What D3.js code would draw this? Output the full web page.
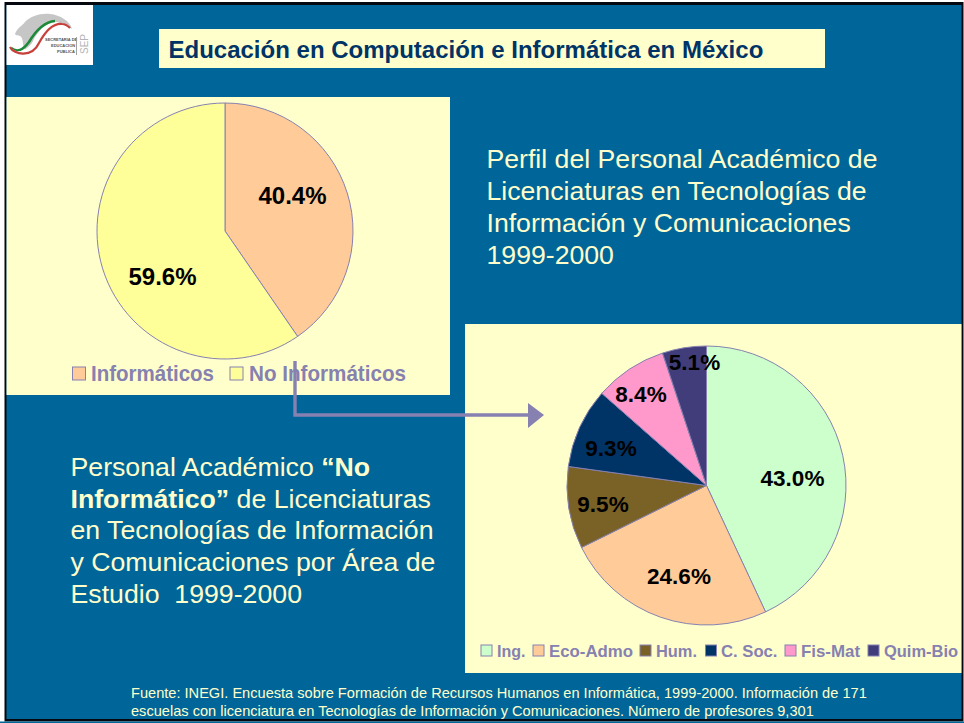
<!DOCTYPE html>
<html><head><meta charset="utf-8">
<script src="https://cdn.jsdelivr.net/npm/d3@7/dist/d3.min.js"></script>
<style>html,body{margin:0;padding:0;background:#fff}svg{display:block}text{font-family:"Liberation Sans",Arial,sans-serif}</style>
</head><body><svg id="c" width="964" height="723"></svg>
<script>
const perfilLabels=["Informáticos","No Informáticos"];
const perfilValues=[40.4,59.6];
const perfilColors=["#ffcc99","#ffff99"];
const areaLabels=["Ing.","Eco-Admo","Hum.","C. Soc.","Fis-Mat","Quim-Bio"];
const areaValues=[43.0,24.6,9.5,9.3,8.4,5.1];
const areaColors=["#ccffcc","#ffcc99","#7a6126","#003366","#ff99cc","#403d7a"];
const titleText="Educación en Computación e Informática en México";
const perfilTitle=["Perfil del Personal Académico de","Licenciaturas en Tecnologías de","Información y Comunicaciones","1999-2000"];
const sourceLines=["Fuente: INEGI. Encuesta sobre Formación de Recursos Humanos en Informática, 1999-2000. Información de 171","escuelas con licenciatura en Tecnologías de Información y Comunicaciones. Número de profesores 9,301"];

const svg=d3.select("#c");
const BG="#006699",CREAM="#ffffcc",LEG="#8681b0",LINE="#8681b0";
svg.append("rect").attr("x",4.5).attr("y",2).attr("width",959).attr("height",719.5).attr("fill","#05090f");
svg.append("rect").attr("x",6.5).attr("y",5).attr("width",955).attr("height",714).attr("fill",BG);
svg.append("rect").attr("x",0).attr("y",721.5).attr("width",964).attr("height",1.5).attr("fill",BG);

// logo
const logo=svg.append("g");
logo.append("rect").attr("x",6.5).attr("y",5).attr("width",86.5).attr("height",60).attr("fill","#fff");
logo.append("path").attr("d","M15 34C17 28 22 26 25 22C31 16 40 13 50 14C60 15 70 21 72 29C66 25 60 22 54 22C46 22 40 30 35 37C32 43 30 50 25 50C22 46 24 38 20 36C18 35 16 36 15 34Z").attr("fill","#c6c6c6");
logo.append("path").attr("d","M11 48C17 53 23 50 29 42C35 32 43 22 55 21").attr("fill","none").attr("stroke","#1d8a3a").attr("stroke-width",2.6);
logo.append("path").attr("d","M11 49C19 55 27 51 33 43C39 34 47 24 58 23").attr("fill","none").attr("stroke","#fff").attr("stroke-width",1.4);
logo.append("path").attr("d","M10 47C14 55 32 58 39 43C45 32 52 23 62 24C66 24 68 26 70 28").attr("fill","none").attr("stroke","#c8403a").attr("stroke-width",2.2);
[["SECRETARIA DE",45,40.5],["EDUCACION",51,47],["PUBLICA",57,53]].forEach(d=>logo.append("text").attr("x",d[1]).attr("y",d[2]).attr("font-size",4).attr("font-weight","bold").attr("fill","#555").text(d[0]));
logo.append("rect").attr("x",76).attr("y",37).attr("width",.9).attr("height",18).attr("fill","#999");
logo.append("text").attr("transform","translate(88,54) rotate(-90)").attr("font-size",10).attr("fill","#b5b5b5").text("SEP");

// title
svg.append("rect").attr("x",159).attr("y",29).attr("width",666).attr("height",39).attr("fill",CREAM);
svg.append("text").attr("x",168.5).attr("y",58).attr("font-size",24).attr("font-weight","bold").attr("fill","#003366").text(titleText);

// panels
svg.append("rect").attr("x",6.5).attr("y",97).attr("width",443.5).attr("height",298).attr("fill",CREAM);
svg.append("rect").attr("x",465).attr("y",324).attr("width",496.5).attr("height",349).attr("fill",CREAM);

function drawPie(cx,cy,r,vals,cols,labels,fs){
  const arcs=d3.pie().sort(null)(vals);
  const arc=d3.arc().innerRadius(0).outerRadius(r);
  const g=svg.append("g").attr("transform",`translate(${cx},${cy})`);
  g.selectAll("path").data(arcs).join("path").attr("d",arc).attr("fill",(d,i)=>cols[i]).attr("stroke",LINE).attr("stroke-width",1);
  g.selectAll("text").data(arcs).join("text")
    .attr("x",(d,i)=>labels[i][0]).attr("y",(d,i)=>labels[i][1])
    .attr("text-anchor","middle").attr("font-size",fs).attr("font-weight","bold").attr("fill","#000")
    .text(d=>d.value.toFixed(1)+"%");
}
drawPie(225,231,128,perfilValues,perfilColors,[[67.5,-27],[-62.5,54]],24);
drawPie(706.5,485.5,139.5,areaValues,areaColors,[[86,0],[-27.5,98],[-103.5,26],[-95.5,-30],[-65.5,-84],[-12,-116]],22.5);

// legends
function legend(items,cols,y,size,fs,xs,tx,tw){
  items.forEach((t,i)=>{
    svg.append("rect").attr("x",xs[i]).attr("y",y-size/2).attr("width",size).attr("height",size).attr("fill",cols[i]).attr("stroke",LEG).attr("stroke-width",1);
    svg.append("text").attr("x",tx[i]).attr("y",y+fs*.36).attr("font-size",fs).attr("font-weight","bold").attr("fill",LEG).attr("textLength",tw[i]).attr("lengthAdjust","spacingAndGlyphs").text(t);
  });
}
legend(perfilLabels,perfilColors,373.5,13,21.5,[72.5,230],[91,249],[123,157]);
legend(areaLabels,areaColors,650.5,11,17,[481,533,640,705.5,785,868],[497,549,656,721,801,884],[28.5,84,41,56.5,59,74]);

// connector
svg.append("path").attr("d","M295 361V415H530").attr("fill","none").attr("stroke",LINE).attr("stroke-width",3.4);
svg.append("path").attr("d","M528 403L544 415L528 428Z").attr("fill",LINE);

// body text
const pt=svg.append("g").attr("font-size",26.65).attr("fill",CREAM);
perfilTitle.forEach((t,i)=>pt.append("text").attr("x",486.5).attr("y",168+i*32).text(t));
const areaTitle=[[["Personal Académico ",0],["“No",1]],[["Informático”",1],[" de Licenciaturas",0]],[["en Tecnologías de Información",0]],[["y Comunicaciones por Área de",0]],[["Estudio  1999-2000",0]]];
const at=svg.append("g").attr("font-size",26.7).attr("fill",CREAM);
areaTitle.forEach((ln,i)=>{
  const t=at.append("text").attr("x",70.5).attr("y",476+i*31.7).style("white-space","pre");
  ln.forEach(s=>t.append("tspan").attr("font-weight",s[1]?"bold":"normal").text(s[0]));
});
sourceLines.forEach((t,i)=>svg.append("text").attr("x",131).attr("y",698+i*18).attr("font-size",14.6).attr("fill",CREAM).text(t));
</script></body></html>
